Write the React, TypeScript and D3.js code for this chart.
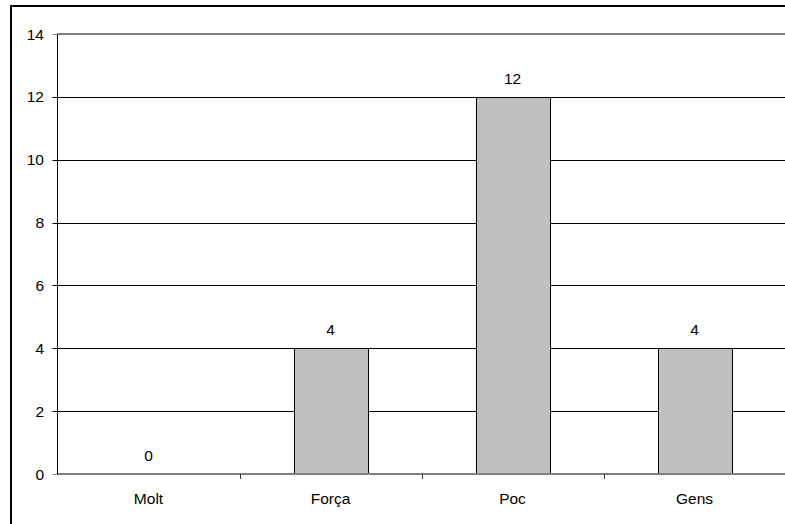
import React from "react";
import * as d3 from "d3";

const categories = ["Molt", "Força", "Poc", "Gens"];
const values = [0, 4, 12, 4];
const yTicks = [0, 2, 4, 6, 8, 10, 12, 14];

const W = 785;
const H = 524;
const plotLeft = 57.5;
const plotRight = 785.5;
const plotTop = 34;
const plotBottom = 474;
const FONT = "'Liberation Sans', Arial, sans-serif";
const FS = 15.5;

export default function App() {
  const x = d3
    .scaleBand<string>()
    .domain(categories)
    .range([plotLeft, plotRight])
    .paddingInner(0)
    .paddingOuter(0);
  const y = d3.scaleLinear().domain([0, 14]).range([plotBottom, plotTop]);
  const bw = x.bandwidth() / 2.47;

  return (
    <svg
      width={W}
      height={H}
      style={{ position: "absolute", left: 0, top: 0, background: "#fff" }}
    >
      <rect x={0} y={0} width={W} height={H} fill="#fff" />
      {/* outer chart border */}
      <rect x={11} y={6} width={W + 20} height={H + 20} fill="none" stroke="#000" strokeWidth={2} />
      {/* gridlines */}
      {yTicks.map((t) =>
        t === 0 || t === 14 ? null : (
          <line key={t} x1={plotLeft} x2={W} y1={Math.round(y(t)) + 0.5} y2={Math.round(y(t)) + 0.5} stroke="#000" strokeWidth={1} />
        )
      )}
      {/* plot area border top (gray) */}
      <line x1={plotLeft} x2={W} y1={y(14)} y2={y(14)} stroke="#808080" strokeWidth={2} />
      {/* bars */}
      {categories.map((c, i) => {
        const cx = (x(c) as number) + x.bandwidth() / 2;
        return (
          <rect
            key={c}
            x={Math.round(cx - bw / 2) + 0.5}
            y={Math.round(y(values[i])) + 0.5}
            width={Math.round(bw)}
            height={Math.max(0, Math.round(y(0)) - Math.round(y(values[i])))}
            fill="#C0C0C0"
            stroke="#000"
            strokeWidth={1}
          />
        );
      })}
      {/* x axis (gray) */}
      <line x1={plotLeft} x2={W} y1={y(0)} y2={y(0)} stroke="#808080" strokeWidth={2} />
      {/* y axis */}
      <line x1={plotLeft} x2={plotLeft} y1={plotTop} y2={plotBottom + 1} stroke="#000" strokeWidth={1} />
      {/* y ticks */}
      {yTicks.map((t) => (
        <g key={t}>
          <line x1={plotLeft - 5} x2={plotLeft} y1={Math.round(y(t)) + 0.5} y2={Math.round(y(t)) + 0.5} stroke={t === 0 || t === 14 ? "#808080" : "#000"} strokeWidth={1} />
          <text x={44} y={y(t) + 5.5} textAnchor="end" fontFamily={FONT} fontSize={FS} fill="#000">
            {t}
          </text>
        </g>
      ))}
      {/* x ticks at category boundaries */}
      {categories.map((c, i) =>
        i === 0 ? null : (
          <line key={c} x1={Math.round(x(c) as number) + 0.5} x2={Math.round(x(c) as number) + 0.5} y1={plotBottom} y2={plotBottom + 5} stroke="#333" strokeWidth={1} />
        )
      )}
      {/* category labels */}
      {categories.map((c) => (
        <text key={c} x={(x(c) as number) + x.bandwidth() / 2} y={503.5} textAnchor="middle" fontFamily={FONT} fontSize={FS} fill="#000">
          {c}
        </text>
      ))}
      {/* value labels */}
      {categories.map((c, i) => (
        <text key={c} x={(x(c) as number) + x.bandwidth() / 2} y={y(values[i]) - 13} textAnchor="middle" fontFamily={FONT} fontSize={FS} fill="#000">
          {values[i]}
        </text>
      ))}
    </svg>
  );
}
